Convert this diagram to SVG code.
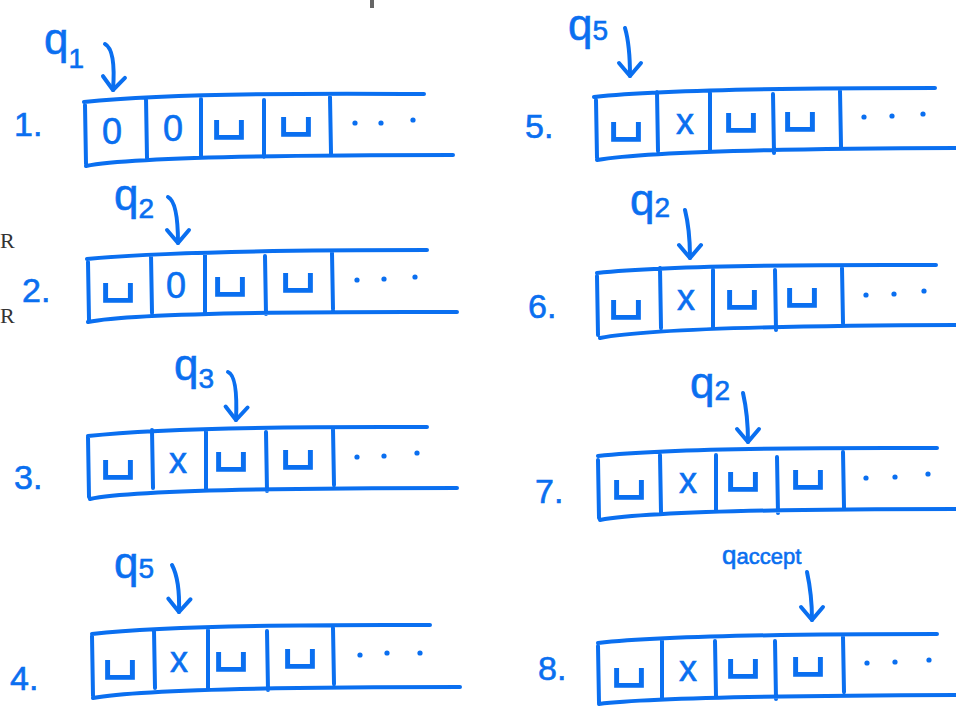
<svg xmlns="http://www.w3.org/2000/svg" width="956" height="706" viewBox="0 0 956 706">
<style>
.ln{fill:none;stroke:#0a6ff0;stroke-width:4;stroke-linecap:round;stroke-linejoin:round}
.t{font-family:"Liberation Sans","DejaVu Sans",sans-serif;fill:#0a6ff0;stroke:#0a6ff0;stroke-width:0.6}
.sym{font-size:36px;text-anchor:middle}
.blk{font-family:"DejaVu Sans",sans-serif;font-size:60px;text-anchor:middle;fill:#0a6ff0}
.num{font-size:34px}
.q{font-size:44px}
.sub{font-size:28px}
.dot{fill:#0a6ff0}
.gr{font-family:"Liberation Serif",serif;font-size:22px;fill:#333}
</style>
<defs>
<marker id="ah" viewBox="-16 -14 19 28" markerWidth="19" markerHeight="28" markerUnits="userSpaceOnUse" refX="0" refY="0" orient="auto">
<path d="M-13,-11 L0,0 L-13,11" fill="none" stroke="#0a6ff0" stroke-width="4" stroke-linecap="round" stroke-linejoin="round"/>
</marker>
</defs>
<rect width="956" height="706" fill="#fff"/>
<rect x="370" y="0" width="4" height="8" fill="#666"/>
<text class="gr" x="0" y="248">R</text>
<text class="gr" x="0" y="323">R</text>

<g id="tape1">
<path class="ln" d="M84,102 Q180,92 424,94 M86,166 Q140,155 453,155 M85,105 L86,164 M146,98 L147,158 M201,99 L201,156 M264,100 L264,157 M330,97 L331,153"/>
<text class="t sym" x="112" y="144">0</text>
<text class="t sym" x="173" y="141">0</text>
<text class="blk" x="229" y="126">␣</text>
<text class="blk" x="296" y="123">␣</text>
<circle class="dot" cx="355" cy="123" r="2.6"/><circle class="dot" cx="381" cy="123" r="2.6"/><circle class="dot" cx="413" cy="120" r="2.6"/>
<text class="t num" x="14" y="136">1.</text>
<text class="t q" x="44" y="54">q<tspan class="sub" dy="14">1</tspan></text>
</g>

<g id="tape2">
<path class="ln" d="M87,259 Q180,250 427,250 M88,322 Q140,311 457,312 M88,262 L89,320 M151,255 L152,313 M205,254 L205,312 M265,256 L266,314 M332,253 L333,309"/>
<text class="blk" x="118" y="289">␣</text>
<text class="t sym" x="176" y="298">0</text>
<text class="blk" x="230" y="283">␣</text>
<text class="blk" x="298" y="279">␣</text>
<circle class="dot" cx="357" cy="280" r="2.6"/><circle class="dot" cx="384" cy="279" r="2.6"/><circle class="dot" cx="415" cy="277" r="2.6"/>
<text class="t num" x="22" y="302">2.</text>
<text class="t q" x="114" y="210">q<tspan class="sub" dy="8">2</tspan></text>
</g>

<g id="tape3">
<path class="ln" d="M88,436 Q180,426 427,427 M90,499 Q140,488 457,488 M88,437 L89,497 M152,430 L153,488 M206,430 L206,488 M266,432 L267,491 M333,429 L334,485"/>
<text class="blk" x="118" y="466">␣</text>
<text class="t sym" x="178" y="473">x</text>
<text class="blk" x="231" y="458">␣</text>
<text class="blk" x="298" y="456">␣</text>
<circle class="dot" cx="357" cy="457" r="2.6"/><circle class="dot" cx="384" cy="456" r="2.6"/><circle class="dot" cx="417" cy="453" r="2.6"/>
<text class="t num" x="14" y="489">3.</text>
<text class="t q" x="174" y="380">q<tspan class="sub" dy="8">3</tspan></text>
</g>

<g id="tape4">
<path class="ln" d="M92,634 Q180,624 430,625 M93,698 Q150,687 460,687 M92,636 L93,696 M154,630 L155,688 M208,630 L208,688 M267,631 L268,690 M333,628 L334,684"/>
<text class="blk" x="120" y="666">␣</text>
<text class="t sym" x="179" y="672">x</text>
<text class="blk" x="231" y="658">␣</text>
<text class="blk" x="300" y="655">␣</text>
<circle class="dot" cx="360" cy="655" r="2.6"/><circle class="dot" cx="387" cy="653" r="2.6"/><circle class="dot" cx="420" cy="653" r="2.6"/>
<text class="t num" x="10" y="690">4.</text>
<text class="t q" x="114" y="578">q<tspan class="sub" dy="0">5</tspan></text>
</g>

<g id="tape5">
<path class="ln" d="M594,97 Q680,88 935,88 M597,160 Q660,149 956,148 M596,100 L597,158 M657,92 L658,151 M710,93 L710,151 M773,94 L774,153 M840,91 L841,146"/>
<text class="blk" x="626" y="128">␣</text>
<text class="t sym" x="685" y="134">x</text>
<text class="blk" x="741" y="119">␣</text>
<text class="blk" x="800" y="118">␣</text>
<circle class="dot" cx="864" cy="117" r="2.6"/><circle class="dot" cx="892" cy="116" r="2.6"/><circle class="dot" cx="923" cy="114" r="2.6"/>
<text class="t num" x="525" y="138">5.</text>
<text class="t q" x="568" y="40">q<tspan class="sub" dy="0">5</tspan></text>
</g>

<g id="tape6">
<path class="ln" d="M597,273 Q680,264 936,265 M600,338 Q660,326 956,325 M597,276 L598,335 M660,268 L661,328 M713,270 L713,328 M775,270 L776,330 M842,268 L843,323"/>
<text class="blk" x="626" y="306">␣</text>
<text class="t sym" x="686" y="310">x</text>
<text class="blk" x="742" y="296">␣</text>
<text class="blk" x="802" y="294">␣</text>
<circle class="dot" cx="866" cy="295" r="2.6"/><circle class="dot" cx="894" cy="294" r="2.6"/><circle class="dot" cx="924" cy="291" r="2.6"/>
<text class="t num" x="528" y="318">6.</text>
<text class="t q" x="630" y="215">q<tspan class="sub" dy="2">2</tspan></text>
</g>

<g id="tape7">
<path class="ln" d="M598,456 Q680,447 937,448 M600,520 Q660,509 956,509 M598,460 L599,518 M660,455 L661,512 M716,455 L716,512 M777,457 L778,513 M843,452 L844,507"/>
<text class="blk" x="629" y="486">␣</text>
<text class="t sym" x="688" y="493">x</text>
<text class="blk" x="743" y="478">␣</text>
<text class="blk" x="808" y="476">␣</text>
<circle class="dot" cx="866" cy="478" r="2.6"/><circle class="dot" cx="895" cy="477" r="2.6"/><circle class="dot" cx="928" cy="474" r="2.6"/>
<text class="t num" x="535" y="503">7.</text>
<text class="t q" x="690" y="398">q<tspan class="sub" dy="2">2</tspan></text>
</g>

<g id="tape8">
<path class="ln" d="M598,643 Q680,634 937,634 M599,704 Q660,696 956,695 M598,646 L599,703 M662,639 L662,697 M715,641 L716,697 M775,641 L776,699 M843,637 L844,692"/>
<text class="blk" x="629" y="674">␣</text>
<text class="t sym" x="688" y="681">x</text>
<text class="blk" x="743" y="665">␣</text>
<text class="blk" x="808" y="663">␣</text>
<circle class="dot" cx="867" cy="663" r="2.6"/><circle class="dot" cx="895" cy="662" r="2.6"/><circle class="dot" cx="929" cy="660" r="2.6"/>
<text class="t num" x="538" y="680">8.</text>
<text class="t" x="722" y="564" font-size="26">q<tspan font-size="22">accept</tspan></text>
</g>

<g id="connectors">
<path class="ln" marker-end="url(#ah)" d="M105,44 Q116,50 113,90"/>
<path class="ln" marker-end="url(#ah)" d="M168,197 Q178,202 178,243"/>
<path class="ln" marker-end="url(#ah)" d="M228,372 Q238,376 236,420"/>
<path class="ln" marker-end="url(#ah)" d="M172,565 Q180,580 179,612"/>
<path class="ln" marker-end="url(#ah)" d="M625,28 Q630,45 630,76"/>
<path class="ln" marker-end="url(#ah)" d="M685,210 Q690,230 690,258"/>
<path class="ln" marker-end="url(#ah)" d="M743,393 Q748,415 748,442"/>
<path class="ln" marker-end="url(#ah)" d="M807,572 Q812,595 812,620"/>
</g>
</svg>
